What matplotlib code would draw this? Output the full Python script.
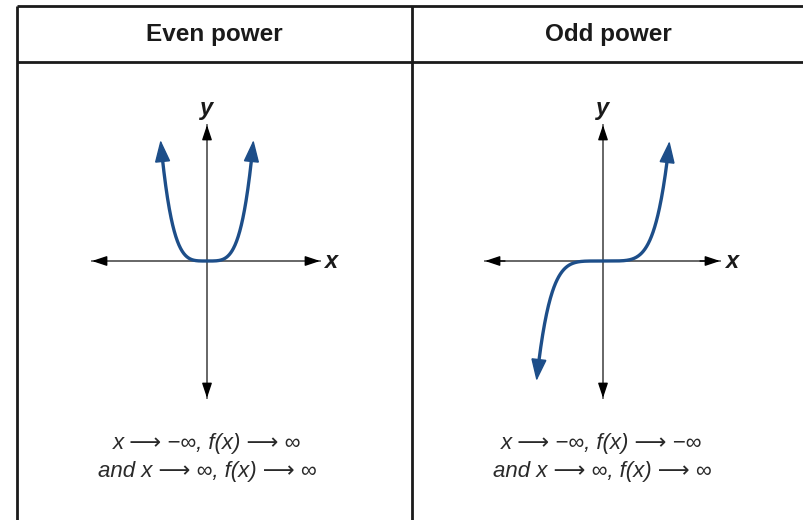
import numpy as np
import matplotlib
matplotlib.use('Agg')
import matplotlib.pyplot as plt

plt.rcParams['font.family'] = ['Liberation Sans', 'DejaVu Sans']

# chart content
headers = ['Even power', 'Odd power']
powers = [4, 5]
end_lines = [
    ['x \u27f6 \u2212\u221e, f(x) \u27f6 \u221e', 'and x \u27f6 \u221e, f(x) \u27f6 \u221e'],
    ['x \u27f6 \u2212\u221e, f(x) \u27f6 \u2212\u221e', 'and x \u27f6 \u221e, f(x) \u27f6 \u221e'],
]

curve_color = '#1d4e89'
axis_color = '#5a5a5a'
W, H = 804, 520

fig = plt.figure(figsize=(W / 100, H / 100), dpi=100)
bg = fig.add_axes([0, 0, 1, 1])
bg.set_xlim(0, W)
bg.set_ylim(H, 0)
bg.axis('off')

# table grid
tab_left, tab_top, head_bot, mid = 17, 6, 62, 412
for y in (tab_top, head_bot):
    bg.plot([tab_left, W], [y, y], color='#1a1a1a', lw=2.0, solid_capstyle='butt')
for x in (tab_left, mid):
    bg.plot([x, x], [tab_top, H], color='#1a1a1a', lw=2.0, solid_capstyle='butt')

# panel layout in pixels: origin, unit size, axis arrow extents
panels = [
    dict(cx=207, cy=261, ux=46.5, uy=121, xl=92, xr=320, text_x=207),
    dict(cx=603, cy=261, ux=66.5, uy=120, xl=485, xr=720, text_x=602),
]
y_top, y_bot = 125, 398

for i, p in enumerate(panels):
    bg.text((tab_left + mid) / 2 if i == 0 else (mid + W) / 2, 34, headers[i],
            ha='center', va='center', fontsize=17.5, fontweight='bold', color='#1a1a1a')

    # axes whose data units are function units
    px0, px1, py0, py1 = p['cx'] - 135, p['cx'] + 135, 100, 415
    ax = fig.add_axes([px0 / W, (H - py1) / H, (px1 - px0) / W, (py1 - py0) / H])
    ax.set_xlim((px0 - p['cx']) / p['ux'], (px1 - p['cx']) / p['ux'])
    ax.set_ylim((p['cy'] - py1) / p['uy'], (p['cy'] - py0) / p['uy'])
    ax.axis('off')

    xl = (p['xl'] - p['cx']) / p['ux']
    xr = (p['xr'] - p['cx']) / p['ux']
    yt = (p['cy'] - y_top) / p['uy']
    yb = (p['cy'] - y_bot) / p['uy']
    ax.plot([xl, xr], [0, 0], color=axis_color, lw=1.3)
    ax.plot([0, 0], [yb, yt], color=axis_color, lw=1.3)
    head = dict(arrowstyle='-|>,head_length=0.9,head_width=0.3', color='black', lw=1.0,
                shrinkA=0, shrinkB=0)
    ax.annotate('', xy=(xr, 0), xytext=(xr - 0.3, 0), arrowprops=head)
    ax.annotate('', xy=(xl, 0), xytext=(xl + 0.3, 0), arrowprops=head)
    ax.annotate('', xy=(0, yt), xytext=(0, yt - 0.1), arrowprops=head)
    ax.annotate('', xy=(0, yb), xytext=(0, yb + 0.1), arrowprops=head)
    ax.text(xr + 0.08, 0, 'x', ha='left', va='center', fontsize=17,
            fontweight='bold', fontstyle='italic', color='#1a1a1a')
    ax.text(0, yt + 0.04, 'y', ha='center', va='bottom', fontsize=17,
            fontweight='bold', fontstyle='italic', color='#1a1a1a')

    n = powers[i]
    t = np.linspace(-0.965, 0.965, 400)
    ax.plot(t, t ** n, color=curve_color, lw=2.4, solid_capstyle='butt')
    chead = dict(arrowstyle='-|>,head_length=1.4,head_width=0.5', color=curve_color,
                 lw=1.0, shrinkA=0, shrinkB=0, joinstyle='miter')
    for s in (-1, 1):
        ax.annotate('', xy=(s * 1.0, s ** n), xytext=(s * 0.99, (s * 0.99) ** n),
                    arrowprops=chead)

    bg.text(p['text_x'], 443, end_lines[i][0], ha='center', va='center',
            fontsize=16, fontstyle='italic', color='#2a2a2a')
    bg.text(p['text_x'], 472, end_lines[i][1], ha='center', va='center',
            fontsize=16, fontstyle='italic', color='#2a2a2a')

fig.savefig('out.png', dpi=100)
